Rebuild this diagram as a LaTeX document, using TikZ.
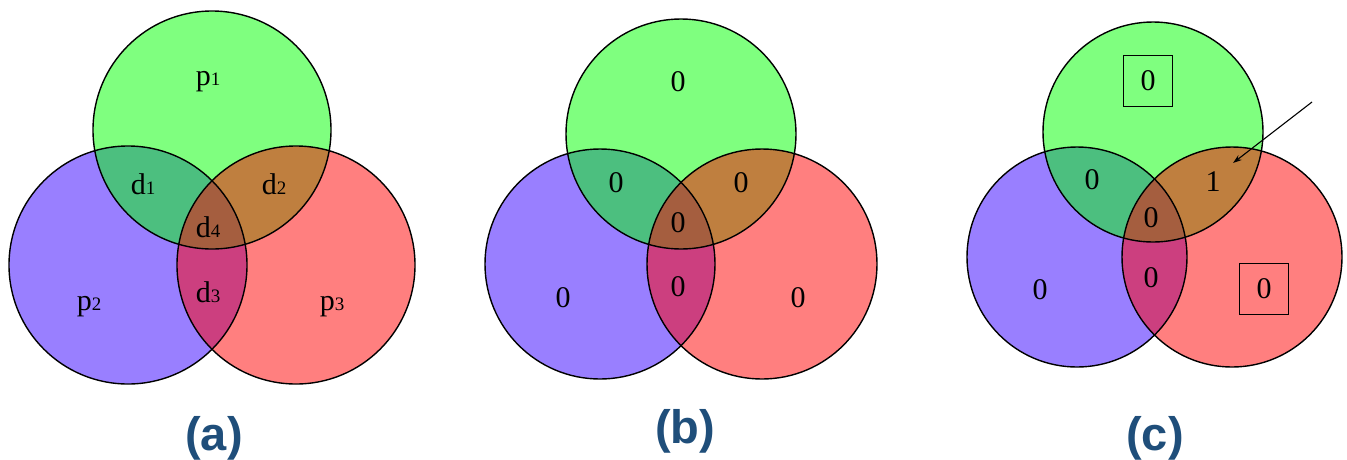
\documentclass[tikz,border=0pt]{standalone}
\usepackage{fontspec}
\setmainfont{Liberation Serif}
\newfontfamily\labfont{Liberation Sans}
\usetikzlibrary{arrows.meta}
\definecolor{vgreen}{RGB}{0,255,0}
\definecolor{vblue}{RGB}{51,0,255}
\definecolor{vred}{RGB}{255,0,0}
\definecolor{labblue}{RGB}{31,78,122}
\newcommand{\sm}[1]{{\fontsize{19}{19}\selectfont #1}}
\tikzset{
  x=1pt, y=-1pt,
  vfill/.style={fill=#1, fill opacity=0.5, draw=none},
  vline/.style={draw=black, line width=1.4pt},
  vtext/.style={font=\fontsize{30}{32}\selectfont, inner sep=0pt},
  boxed/.style={vtext, draw=black, line width=1pt, minimum width=49pt, minimum height=51pt},
  panellab/.style={font=\labfont\bfseries\fontsize{47}{50}\selectfont, text=labblue, anchor=base, inner sep=0pt},
}
\begin{document}
\begin{tikzpicture}
\useasboundingbox (0,0) rectangle (1347,459);
% panel (a)
\fill[vfill=vblue] (128,265) circle[radius=119pt];
\fill[vfill=vgreen] (212,130) circle[radius=119pt];
\fill[vfill=vred] (296,265) circle[radius=119pt];
\draw[vline] (128,265) circle[radius=119pt];
\draw[vline] (212,130) circle[radius=119pt];
\draw[vline] (296,265) circle[radius=119pt];
\node[vtext] (ap1) at (208,82) {p\sm{1}};
\node[vtext] (ad1) at (143,184) {d\sm{1}};
\node[vtext] (ad2) at (274,184) {d\sm{2}};
\node[vtext] (ad4) at (208,227) {d\sm{4}};
\node[vtext] (ad3) at (208,292) {d\sm{3}};
\node[vtext] (ap2) at (89,307) {p\sm{2}};
\node[vtext] (ap3) at (332,307) {p\sm{3}};
\node[panellab] (la) at (214,450) {(a)};
% panel (b)
\fill[vfill=vblue] (600,264) circle[radius=115pt];
\fill[vfill=vgreen] (681,134) circle[radius=115pt];
\fill[vfill=vred] (762,264) circle[radius=115pt];
\draw[vline] (600,264) circle[radius=115pt];
\draw[vline] (681,134) circle[radius=115pt];
\draw[vline] (762,264) circle[radius=115pt];
\node[vtext] (bp1) at (678,82) {0};
\node[vtext] (bd1) at (616,183) {0};
\node[vtext] (bd2) at (741,183) {0};
\node[vtext] (bd4) at (678,223) {0};
\node[vtext] (bd3) at (678,287) {0};
\node[vtext] (bp2) at (563,298) {0};
\node[vtext] (bp3) at (798,298) {0};
\node[panellab] (lb) at (685,443) {(b)};
% panel (c)
\fill[vfill=vblue] (1077,257) circle[radius=110pt];
\fill[vfill=vgreen] (1153,132) circle[radius=110pt];
\fill[vfill=vred] (1232,257) circle[radius=110pt];
\draw[vline] (1077,257) circle[radius=110pt];
\draw[vline] (1153,132) circle[radius=110pt];
\draw[vline] (1232,257) circle[radius=110pt];
\node[boxed] (cp1) at (1148,81) {0};
\node[vtext] (cd1) at (1092,180) {0};
\node[vtext] (cd2) at (1213,182) {1};
\node[vtext] (cd4) at (1151,218) {0};
\node[vtext] (cd3) at (1151,278) {0};
\node[vtext] (cp2) at (1040,290) {0};
\node[boxed] (cp3) at (1264,289) {0};
\coordinate (arrstart) at (1312,102);
\coordinate (arrtip) at (1233,163);
\draw[line width=1.1pt, -{Stealth[length=9pt,width=6pt]}] (arrstart) -- (arrtip);
\node[panellab] (lc) at (1155,450) {(c)};
\end{tikzpicture}
\end{document}
